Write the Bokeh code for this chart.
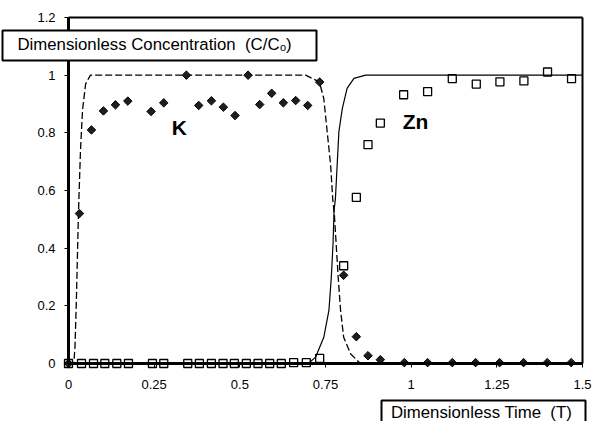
import numpy as np
from bokeh.plotting import figure
from bokeh.models import (Range1d, FixedTicker, Label, BoxAnnotation,
                          NumeralTickFormatter, LinearAxis)
from bokeh.embed import file_html
from bokeh.resources import INLINE

# ---- measured data (K: filled diamonds, Zn: open squares) ----
k_time = [0, 0.032, 0.067, 0.102, 0.137, 0.173, 0.241, 0.278, 0.344, 0.380, 0.417,
          0.452, 0.486, 0.524, 0.558, 0.593, 0.627, 0.663, 0.698, 0.733, 0.803,
          0.840, 0.874, 0.910, 0.980, 1.048, 1.120, 1.188, 1.258, 1.328, 1.397, 1.467]
k_conc = [0, 0.52, 0.81, 0.876, 0.897, 0.91, 0.874, 0.904, 1.0, 0.895, 0.911,
          0.889, 0.86, 1.0, 0.898, 0.937, 0.904, 0.912, 0.895, 0.976, 0.306,
          0.093, 0.027, 0.013, 0.003, 0.003, 0.003, 0.003, 0.003, 0.003, 0.003, 0.003]

zn_time = [0, 0.038, 0.073, 0.106, 0.141, 0.175, 0.245, 0.278, 0.348, 0.382, 0.417,
           0.451, 0.484, 0.519, 0.553, 0.587, 0.621, 0.657, 0.694, 0.733, 0.803,
           0.840, 0.874, 0.910, 0.978, 1.048, 1.120, 1.190, 1.259, 1.329, 1.398, 1.468]
zn_conc = [0, 0, 0, 0, 0, 0, 0, 0, 0, 0, 0,
           0, 0, 0, 0, 0, 0, 0.003, 0.003, 0.018, 0.339,
           0.576, 0.759, 0.834, 0.932, 0.943, 0.988, 0.969, 0.977, 0.98, 1.011, 0.988]

# model curves
k_model_time = [0, 0.0155, 0.019, 0.023, 0.029, 0.035, 0.041, 0.050, 0.064, 0.692, 0.711,
                0.732, 0.745, 0.755, 0.765, 0.771, 0.776, 0.781, 0.787, 0.794, 0.803,
                0.823, 0.847, 0.858, 1.5]
k_model_conc = [0, 0, 0.06, 0.22, 0.52, 0.74, 0.88, 0.97, 1.0, 1.0, 0.989,
                0.977, 0.919, 0.803, 0.688, 0.572, 0.514, 0.416, 0.30, 0.184, 0.091,
                0.034, 0.005, 0, 0]
zn_model_time = [0, 0.70, 0.721, 0.745, 0.760, 0.767, 0.772, 0.775, 0.779, 0.784,
                 0.789, 0.799, 0.813, 0.833, 0.867, 1.5]
zn_model_conc = [0, 0, 0.022, 0.091, 0.184, 0.30, 0.416, 0.531, 0.572, 0.688,
                 0.803, 0.884, 0.954, 0.989, 1.0, 1.0]

x_ticks = [0, 0.25, 0.5, 0.75, 1, 1.25, 1.5]
x_tick_labels = ["0", "0.25", "0.5", "0.75", "1", "1.25", "1.5"]
y_ticks = [0, 0.2, 0.4, 0.6, 0.8, 1, 1.2]
y_tick_labels = ["0", "0.2", "0.4", "0.6", "0.8", "1", "1.2"]

FONT = "Liberation Sans"

# pixel layout: x=0 at px 68, x=1.5 at px 582; y=0 at px 363, y=1.2 at px 17
W, H = 592, 421
X0, X1, Y0, Y1 = 68.0, 582.0, 363.0, 17.0
sx = (X1 - X0) / 1.5
sy = (Y0 - Y1) / 1.2


def dx(px):
    return (px - X0) / sx


def dy(py):
    return (Y0 - py) / sy


p = figure(width=W, height=H, output_backend="svg", toolbar_location=None,
           x_range=Range1d(dx(0), dx(W)), y_range=Range1d(dy(H), dy(0)),
           min_border=0, min_border_left=0, min_border_right=0,
           min_border_top=0, min_border_bottom=0)
p.grid.visible = False
p.outline_line_color = None
p.background_fill_color = "white"
p.border_fill_color = "white"

xa = p.xaxis[0]
ya = p.yaxis[0]
xa.fixed_location = 0
ya.fixed_location = 0
xa.bounds = (0, 1.5)
ya.bounds = (0, 1.2)

for ax in (xa, ya):
    ax.axis_line_width = 3
    ax.axis_line_color = "black"
    ax.major_tick_line_color = "black"
    ax.major_tick_line_width = 1
    ax.major_tick_out = 4
    ax.major_tick_in = 0
    ax.minor_tick_line_color = None
    ax.major_label_text_font = FONT
    ax.major_label_text_font_size = "13px"
    ax.major_label_text_color = "black"

xa.ticker = FixedTicker(ticks=x_ticks)
xa.formatter = NumeralTickFormatter(format="0.[00]")
xa.major_label_overrides = dict(zip(x_ticks, x_tick_labels))
xa.major_label_standoff = 12
ya.ticker = FixedTicker(ticks=y_ticks)
ya.formatter = NumeralTickFormatter(format="0.[0]")
ya.major_label_overrides = dict(zip(y_ticks, y_tick_labels))
ya.major_label_standoff = 9

# top and right frame lines as plain axes without ticks
top = LinearAxis(fixed_location=1.2, bounds=(0, 1.5), ticker=FixedTicker(ticks=[]),
                 axis_line_width=2, axis_line_color="black",
                 major_tick_line_color=None, minor_tick_line_color=None,
                 major_label_text_font_size="0px")
right = LinearAxis(fixed_location=1.5, bounds=(0, 1.2), ticker=FixedTicker(ticks=[]),
                   axis_line_width=2, axis_line_color="black",
                   major_tick_line_color=None, minor_tick_line_color=None,
                   major_label_text_font_size="0px")
p.add_layout(top, "above")
p.add_layout(right, "right")

p.line(k_model_time, k_model_conc, line_color="black", line_width=1.3, line_dash="7 3")
p.line(zn_model_time, zn_model_conc, line_color="black", line_width=1.2)

p.scatter(zn_time, zn_conc, marker="square", size=8, fill_color=None,
          line_color="black", line_width=1.3)
p.scatter(k_time, k_conc, marker="square", angle=np.pi / 4, size=6,
          fill_color="#1e1e1e", line_color="black", line_width=1)

# series labels
p.add_layout(Label(x=dx(178.8), y=dy(127), text="K", text_font=FONT, text_font_style="bold",
                   text_font_size="21px", text_color="black",
                   text_align="center", text_baseline="middle"))
p.add_layout(Label(x=dx(415), y=dy(121), text="Zn", text_font=FONT, text_font_style="bold",
                   text_font_size="21px", text_color="black",
                   text_align="center", text_baseline="middle"))

# axis title boxes
p.add_layout(BoxAnnotation(left=dx(2), right=dx(316), top=dy(30), bottom=dy(60),
                           fill_color="white", fill_alpha=1, line_color="black",
                           line_width=2, line_alpha=1))
p.add_layout(BoxAnnotation(left=dx(381), right=dx(585), top=dy(400), bottom=dy(440),
                           fill_color="white", fill_alpha=1, line_color="black",
                           line_width=2, line_alpha=1))

p.add_layout(Label(x=dx(279), y=dy(43.5), text="Dimensionless Concentration\u00a0\u00a0(C/C",
                   text_font=FONT, text_font_size="16.8px", text_color="black",
                   text_align="right", text_baseline="alphabetic"))
p.add_layout(Label(x=dx(279.5), y=dy(46.5), text="o",
                   text_font=FONT, text_font_size="11px", text_color="black",
                   text_align="left", text_baseline="alphabetic"))
p.add_layout(Label(x=dx(285.5), y=dy(43.5), text=")",
                   text_font=FONT, text_font_size="16.8px", text_color="black",
                   text_align="left", text_baseline="alphabetic"))
p.add_layout(Label(x=dx(481), y=dy(411.5), text="Dimensionless Time\u00a0\u00a0(T)",
                   text_font=FONT, text_font_size="16.8px", text_color="black",
                   text_align="center", text_baseline="alphabetic"))

open("out.html", "w").write(file_html(p, INLINE))
